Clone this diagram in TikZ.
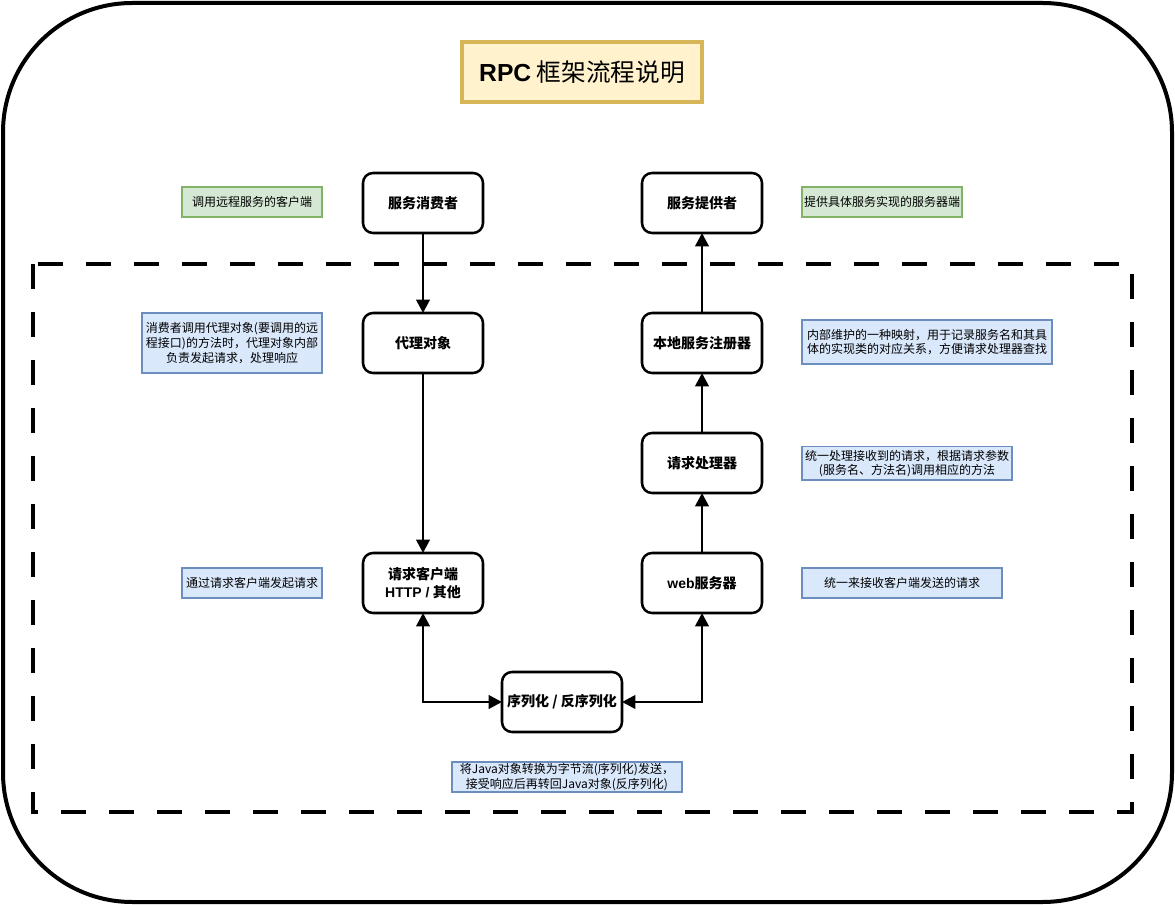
\documentclass[tikz,border=0pt]{standalone}
\usepackage{fontspec}
\setmainfont{Noto Sans CJK SC}
\newfontfamily\latinfont{Liberation Sans}
\usetikzlibrary{arrows.meta}
\definecolor{notegreenfill}{HTML}{D5E8D4}
\definecolor{notegreenline}{HTML}{82B366}
\definecolor{notebluefill}{HTML}{DAE8FC}
\definecolor{noteblueline}{HTML}{6C8EBF}
\definecolor{titlefill}{HTML}{FFF2CC}
\definecolor{titleline}{HTML}{D6B656}
\begin{document}
\begin{tikzpicture}[x=0.75pt,y=-0.75pt,
  stepbox/.style={draw=black, line width=1.9pt, rounded corners=7.5pt, fill=white,
    minimum width=90pt, minimum height=45pt, inner sep=0pt, outer sep=0pt,
    align=center, font=\fontsize{10.5pt}{13pt}\selectfont\bfseries},
  greennote/.style={draw=notegreenline, fill=notegreenfill, line width=1.2pt,
    inner sep=0pt, outer sep=0pt, align=center, font=\fontsize{9pt}{11pt}\selectfont},
  bluenote/.style={draw=noteblueline, fill=notebluefill, line width=1pt,
    inner sep=0pt, outer sep=0pt, align=center, font=\fontsize{9pt}{11pt}\selectfont},
  flow/.style={line width=2.1pt, -{Triangle[length=10pt,width=10pt]}},
  flowboth/.style={line width=2.1pt, {Triangle[length=10pt,width=10pt]}-{Triangle[length=10pt,width=10pt]}}
]
\useasboundingbox (0,0) rectangle (1175,905);
% outer frame
\draw[line width=3pt, rounded corners=97pt] (3,3) rectangle (1172,902);
% dashed region
\draw[line width=2.6pt, dash pattern=on 18.75pt off 17.25pt] (33,264) rectangle (1132,812);
% title
\node[draw=titleline, fill=titlefill, line width=3pt, minimum width=180pt, minimum height=45pt,
  inner sep=0pt, font=\fontsize{18.5pt}{22pt}\selectfont] (title) at (582,72)
  {{\latinfont\bfseries RPC} 框架流程说明};

% main boxes
\node[stepbox] (consumer) at (423,203) {服务消费者};
\node[stepbox] (proxy) at (423,343) {代理对象};
\node[stepbox] (client) at (423,583) {请求客户端\\{\latinfont\bfseries HTTP /} 其他};
\node[stepbox] (serial) at (562,702) {序列化 / 反序列化};
\node[stepbox] (web) at (702,583) {{\latinfont\bfseries web}服务器};
\node[stepbox] (handler) at (702,463) {请求处理器};
\node[stepbox] (registry) at (702,343) {本地服务注册器};
\node[stepbox] (provider) at (702,203) {服务提供者};

% notes
\node[greennote, minimum width=105pt, minimum height=22.5pt] (n1) at (252,202) {调用远程服务的客户端};
\node[greennote, minimum width=120pt, minimum height=22.5pt] (n2) at (882,202) {提供具体服务实现的服务器端};
\node[bluenote, minimum width=135pt, minimum height=45pt] (n3) at (232,343)
  {消费者调用代理对象(要调用的远\\程接口)的方法时，代理对象内部\\负责发起请求，处理响应};
\node[bluenote, minimum width=187.5pt, minimum height=33pt] (n4) at (927,342)
  {内部维护的一种映射，用于记录服务名和其具\\体的实现类的对应关系，方便请求处理器查找};
\node[bluenote, minimum width=157.5pt, minimum height=25pt] (n5) at (907,463.5)
  {统一处理接收到的请求，根据请求参数\\(服务名、方法名)调用相应的方法};
\node[bluenote, minimum width=105pt, minimum height=22.5pt] (n6) at (252,583) {通过请求客户端发起请求};
\node[bluenote, minimum width=150pt, minimum height=22.5pt] (n7) at (902,583) {统一来接收客户端发送的请求};
\node[bluenote, minimum width=172.5pt, minimum height=22.5pt] (n8) at (567,777)
  {将Java对象转换为字节流(序列化)发送，\\接受响应后再转回Java对象(反序列化)};

% connectors
\draw[flow] (consumer) -- (proxy);
\draw[flow] (proxy) -- (client);
\draw[flowboth] (client.south) |- (serial.west);
\draw[flowboth] (serial.east) -| (web.south);
\draw[flow] (web) -- (handler);
\draw[flow] (handler) -- (registry);
\draw[flow] (registry) -- (provider);
\end{tikzpicture}
\end{document}
